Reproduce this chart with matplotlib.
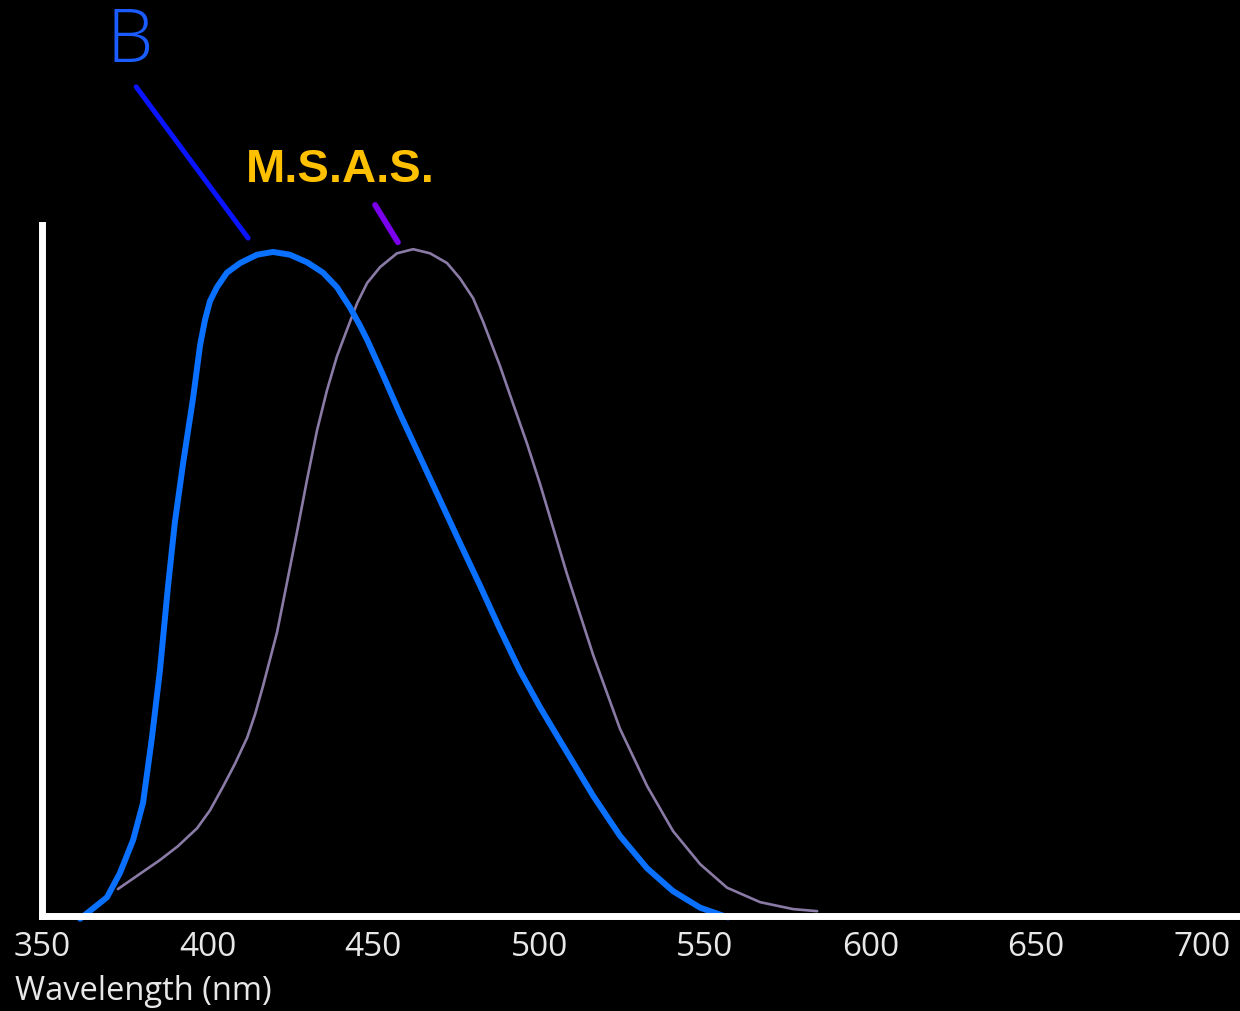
import numpy as np
import matplotlib
matplotlib.use("Agg")
import matplotlib.pyplot as plt

# values (wavelength in nm, relative response)
b_nm = [361.5, 369.6, 373.5, 377.5, 380.5, 383.2, 385.6, 388.0, 390.1, 392.6,
        395.6, 397.7, 399.2, 400.7, 402.8, 405.8, 409.8, 414.9, 419.7, 424.8,
        430.0, 434.8, 439.0, 442.9, 446.0, 448.1, 452.9, 458.0, 464.1, 470.1,
        476.1, 482.2, 488.2, 494.2, 500.3, 508.4, 516.3, 524.4, 532.6, 540.4,
        548.6, 557.0]
b_resp = [-0.004, 0.027, 0.062, 0.110, 0.164, 0.259, 0.356, 0.476, 0.570, 0.656,
          0.750, 0.826, 0.863, 0.890, 0.910, 0.931, 0.945, 0.957, 0.961, 0.957,
          0.946, 0.931, 0.910, 0.881, 0.854, 0.834, 0.783, 0.727, 0.664, 0.602,
          0.540, 0.478, 0.415, 0.355, 0.302, 0.237, 0.174, 0.116, 0.069, 0.036,
          0.012, -0.002]

m_nm = [372.9, 385.6, 391.0, 396.8, 400.7, 404.6, 408.2, 411.9, 414.3, 416.7,
        420.9, 423.9, 427.0, 430.0, 433.0, 436.0, 439.0, 442.3, 445.1, 448.1,
        452.0, 457.1, 462.0, 467.1, 472.2, 476.1, 480.1, 483.1, 488.2, 492.1,
        496.4, 500.3, 508.4, 516.3, 524.4, 532.6, 540.4, 548.6, 556.7, 566.7,
        576.6, 583.9]
m_resp = [0.039, 0.081, 0.101, 0.127, 0.153, 0.187, 0.220, 0.258, 0.292, 0.333,
          0.410, 0.482, 0.557, 0.632, 0.703, 0.761, 0.810, 0.852, 0.887, 0.916,
          0.939, 0.959, 0.965, 0.959, 0.945, 0.923, 0.894, 0.860, 0.796, 0.742,
          0.683, 0.625, 0.495, 0.378, 0.271, 0.188, 0.123, 0.075, 0.041, 0.020,
          0.010, 0.007]

xticks = [350, 400, 450, 500, 550, 600, 650, 700]

fig = plt.figure(figsize=(12.4, 10.11), dpi=100, facecolor="black")
ax = fig.add_axes([42/1240, 1-916/1011, 1-42/1240, (916-225)/1011])
ax.set_facecolor("black")

ax.plot(m_nm, m_resp, color="#8a7aa6", lw=1.9, solid_capstyle="round",
        solid_joinstyle="round", clip_on=False)
ax.plot(b_nm, b_resp, color="#0a70ff", lw=4.3, solid_capstyle="round",
        solid_joinstyle="round", clip_on=False)

ax.set_xlim(350, 350 + (1240-42)/3.314)
ax.set_ylim(0, 1)
ax.set_xticks(xticks)
ax.set_xticklabels([str(t) for t in xticks], family="Open Sans", fontsize=24, color="#e8e8e8")
ax.set_yticks([])
ax.tick_params(axis="x", length=0, pad=11)
for s in ["top", "right"]:
    ax.spines[s].set_visible(False)
for s in ["left", "bottom"]:
    ax.spines[s].set_color("white")
    ax.spines[s].set_linewidth(5)

fig.text(15/1240, 1-991/1011, "Wavelength (nm)", family="Open Sans", fontsize=23.5,
         color="#e8e8e8", ha="left", va="center")

# labels and pointers
fig.text(107/1240, 1-43/1011, "B", family="Open Sans", fontweight="light", fontsize=53,
         color="#1a5cff", ha="left", va="center")
fig.text(246/1240, 1-170/1011, "M.S.A.S.", family="Liberation Sans", fontweight="bold",
         fontsize=34, color="#ffc000", ha="left", va="center")

ax.annotate("", xy=(412.2, 0.981), xytext=(378.4, 1.20),
            arrowprops=dict(arrowstyle="-", color="#0a14ff", lw=3.6, shrinkA=0, shrinkB=0),
            annotation_clip=False)
ax.annotate("", xy=(457.4, 0.975), xytext=(450.5, 1.029),
            arrowprops=dict(arrowstyle="-", color="#7a00ee", lw=4.2, shrinkA=0, shrinkB=0),
            annotation_clip=False)

fig.savefig("out.png", dpi=100, facecolor="black")
